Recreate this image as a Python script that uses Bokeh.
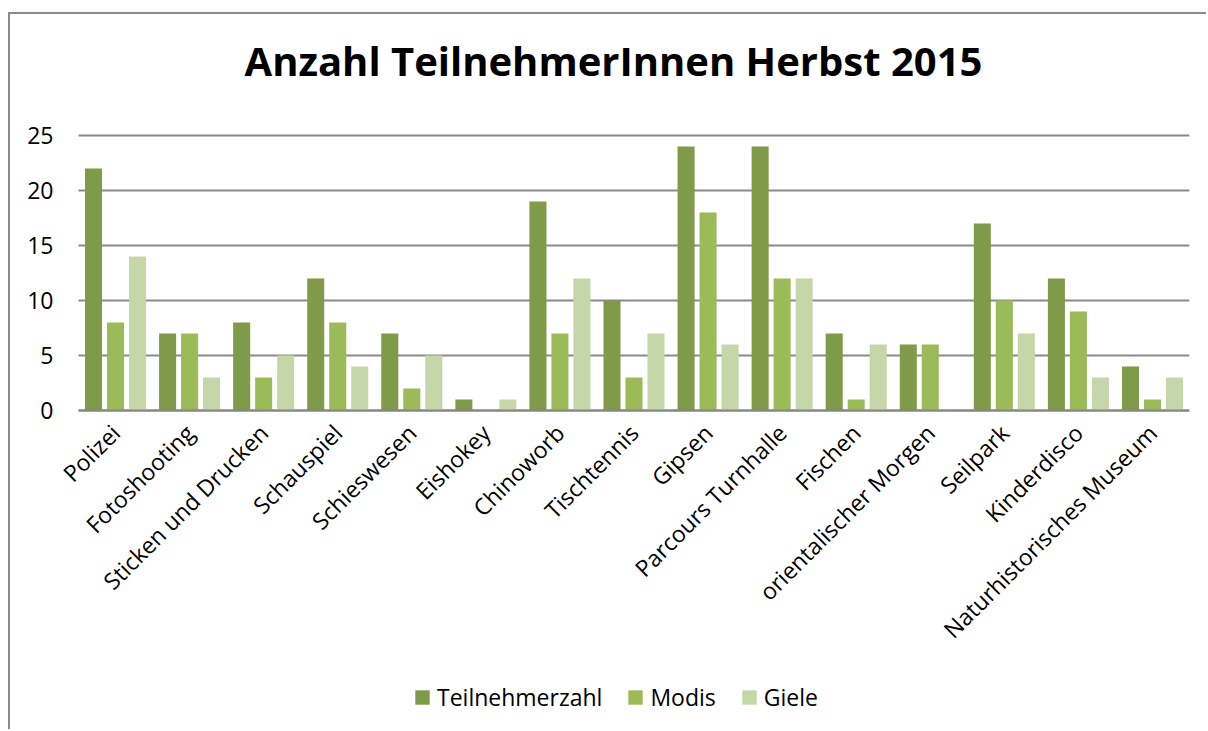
import math
from bokeh.plotting import figure
from bokeh.models import (ColumnDataSource, Range1d, Legend, LegendItem, LinearAxis,
                          FixedTicker, Label)
from bokeh.transform import dodge
from bokeh.embed import file_html
from bokeh.resources import INLINE

categories = ["Polizei", "Fotoshooting", "Sticken und Drucken", "Schauspiel", "Schieswesen",
              "Eishokey", "Chinoworb", "Tischtennis", "Gipsen", "Parcours Turnhalle",
              "Fischen", "orientalischer Morgen", "Seilpark", "Kinderdisco",
              "Naturhistorisches Museum"]
teilnehmerzahl = [22, 7, 8, 12, 7, 1, 19, 10, 24, 24, 7, 6, 17, 12, 4]
modis = [8, 7, 3, 8, 2, 0, 7, 3, 18, 12, 1, 6, 10, 9, 1]
giele = [14, 3, 5, 4, 5, 1, 12, 7, 6, 12, 6, 0, 7, 3, 3]
series_names = ["Teilnehmerzahl", "Modis", "Giele"]
y_ticks = [0, 5, 10, 15, 20, 25]
title_text = "Anzahl TeilnehmerInnen Herbst 2015"
colors = ["#7f9a48", "#9bbb59", "#c5d6a8"]

FONT = "Open Sans"

# ---- layout (canvas pixels) ----
W, H = 1198, 717
PLOT_LEFT, PLOT_RIGHT = 68, 1179          # where the category band starts/ends
FRAME_LEFT = 48                            # frame starts a bit left so the first label is not clipped
Y_TOP_PX, Y_ZERO_PX = 121, 396             # pixel rows of y=25 and y=0
n = len(categories)
px_per_cat = (PLOT_RIGHT - PLOT_LEFT) / n
px_per_unit = (Y_ZERO_PX - Y_TOP_PX) / (y_ticks[-1] - y_ticks[0])
x_start = -0.5 - (PLOT_LEFT - FRAME_LEFT) / px_per_cat
x_end = n - 0.5
y_end = y_ticks[-1] + Y_TOP_PX / px_per_unit
y_start = -(H - Y_ZERO_PX) / px_per_unit

idx = list(range(n))
source = ColumnDataSource(data=dict(x=idx, t=teilnehmerzahl, m=modis, g=giele))

p = figure(x_range=Range1d(x_start, x_end), y_range=Range1d(y_start, y_end),
           width=W, height=H, output_backend="svg", toolbar_location=None,
           x_axis_location=None,
           min_border_left=FRAME_LEFT, min_border_right=W - PLOT_RIGHT,
           min_border_top=0, min_border_bottom=0)
p.styles = {"margin-left": "8px", "margin-top": "12px",
            "border-left": "2px solid #8a8a8a", "border-top": "2px solid #8a8a8a"}
p.outline_line_color = None
p.xgrid.visible = False
p.ygrid.visible = False

# horizontal grid lines across the category band
p.segment(x0=[-0.5] * len(y_ticks), x1=[n - 0.5] * len(y_ticks), y0=y_ticks, y1=y_ticks,
          line_color="#8a8a8a", line_width=1.8)

r1 = p.vbar(x=dodge("x", -0.297), top="t", width=0.23, source=source,
            fill_color=colors[0], line_color=None)
r2 = p.vbar(x=dodge("x", 0.0), top="m", width=0.23, source=source,
            fill_color=colors[1], line_color=None)
r3 = p.vbar(x=dodge("x", 0.297), top="g", width=0.23, source=source,
            fill_color=colors[2], line_color=None)

# y axis
p.yaxis.ticker = FixedTicker(ticks=y_ticks)
p.yaxis.axis_line_color = None
p.yaxis.major_tick_line_color = None
p.yaxis.minor_tick_line_color = None
p.yaxis.major_label_standoff = -1
p.yaxis.major_label_text_font = FONT
p.yaxis.major_label_text_font_size = "23px"
p.yaxis.major_label_text_color = "#000000"

# category axis at y = 0
xaxis = LinearAxis(fixed_location=0, ticker=FixedTicker(ticks=idx),
                   major_label_overrides={i: c for i, c in zip(idx, categories)},
                   bounds=(-0.5, n - 0.5))
xaxis.axis_line_color = "#868686"
xaxis.axis_line_width = 2
xaxis.major_tick_line_color = None
xaxis.minor_tick_line_color = None
xaxis.major_label_orientation = math.pi / 4
xaxis.major_label_standoff = 12
xaxis.major_label_text_font = FONT
xaxis.major_label_text_font_size = "23px"
xaxis.major_label_text_color = "#000000"
p.add_layout(xaxis, "below")

# title
title = Label(x=555, y=H - 46, x_units="screen", y_units="screen", text=title_text,
              text_align="center", text_baseline="alphabetic",
              text_font=FONT, text_font_size="40px", text_font_style="bold",
              text_color="#000000")
p.add_layout(title)

legend = Legend(items=[LegendItem(label=series_names[0], renderers=[r1]),
                       LegendItem(label=series_names[1], renderers=[r2]),
                       LegendItem(label=series_names[2], renderers=[r3])],
                orientation="horizontal", location=(355, 18),
                glyph_width=18, glyph_height=18, label_height=18,
                label_standoff=6, spacing=24, padding=0, margin=0,
                border_line_color=None, background_fill_alpha=0,
                label_text_font=FONT, label_text_font_size="23px", label_text_color="#000000")
p.add_layout(legend, "center")

open("out.html", "w").write(file_html(p, INLINE))
